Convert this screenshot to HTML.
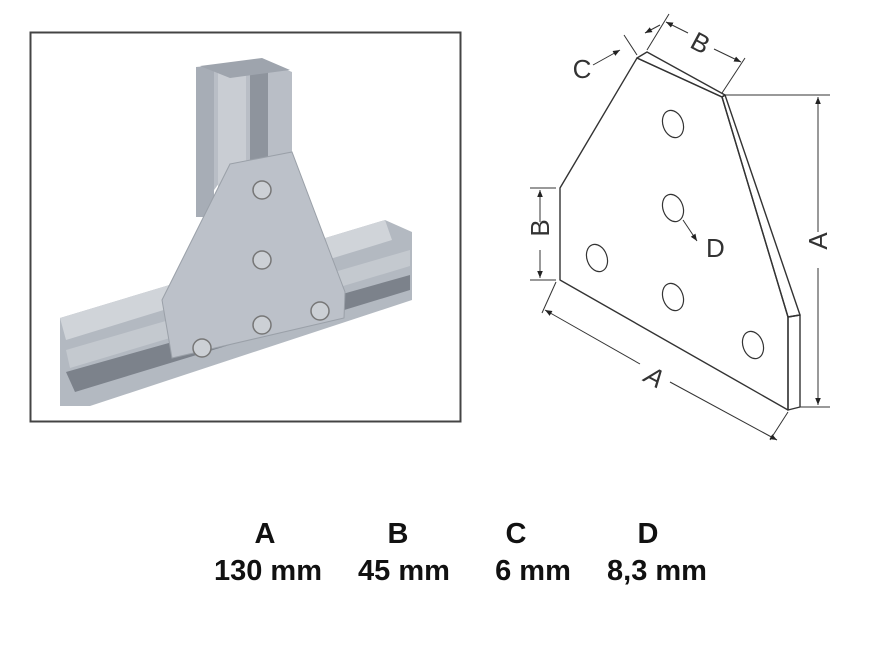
<!DOCTYPE html>
<html><head><meta charset="utf-8"><style>
html,body{margin:0;padding:0;background:#fff;}
svg{display:block}
text{font-family:"Liberation Sans",sans-serif;}
</style></head><body>
<svg width="880" height="660" viewBox="0 0 880 660" xmlns="http://www.w3.org/2000/svg">
<defs>
<marker id="ar" viewBox="0 0 10 10" refX="10" refY="5" markerWidth="7" markerHeight="7" orient="auto-start-reverse"><path d="M0,1 L10,5 L0,9 z" fill="#222"/></marker>
</defs>
<!-- photo -->
<rect x="30.5" y="32.5" width="430" height="389" fill="#fff" stroke="#444" stroke-width="2"/>
<!-- vertical profile -->
<polygon points="196,67 264,60 292,72 292,160 225,175 196,215" fill="#b9bec6"/>
<rect x="196" y="67" width="18" height="150" fill="#a7adb6"/>
<rect x="250" y="70" width="18" height="95" fill="#8e949d"/>
<rect x="218" y="72" width="28" height="150" fill="#c9cdd3"/>
<polygon points="200,66 262,58 290,70 230,78" fill="#9ea4ad"/>
<!-- horizontal profile -->
<polygon points="60,318 385,220 412,232 412,300 90,406 60,406" fill="#b3b9c1"/>
<polygon points="60,318 385,220 392,240 66,340" fill="#d0d4d9"/>
<polygon points="66,350 410,250 410,266 70,368" fill="#c4c9cf"/>
<polygon points="66,372 410,275 410,290 75,392" fill="#7c828b"/>
<!-- plate -->
<polygon points="230,164 292,152 345,292 344,318 172,358 162,300" fill="#bcc1c9" stroke="#9aa0a8"/>
<g fill="#ccd0d5" stroke="#777" stroke-width="1.5">
<circle cx="262" cy="190" r="9"/><circle cx="262" cy="260" r="9"/><circle cx="262" cy="325" r="9"/><circle cx="320" cy="311" r="9"/><circle cx="202" cy="348" r="9"/>
</g>
<!-- drawing -->
<g fill="none" stroke="#333" stroke-width="1.4" stroke-linejoin="round">
<polygon points="637,58 722,97 788,317 788,410 560,280 560,188" fill="#fff"/>
<polygon points="637,58 647,52 725,95 722,97"/>
<polygon points="722,97 725,95 800,315 788,317"/>
<polygon points="788,317 800,315 800,407 788,410"/>
<g stroke-width="1.2">
<ellipse cx="673" cy="124" rx="10" ry="14" transform="rotate(-20 673 124)"/>
<ellipse cx="673" cy="208" rx="10" ry="14" transform="rotate(-20 673 208)"/>
<ellipse cx="597" cy="258" rx="10" ry="14" transform="rotate(-20 597 258)"/>
<ellipse cx="673" cy="297" rx="10" ry="14" transform="rotate(-20 673 297)"/>
<ellipse cx="753" cy="345" rx="10" ry="14" transform="rotate(-20 753 345)"/>
</g>
<g stroke-width="1">
<line x1="725" y1="95" x2="830" y2="95"/><line x1="800" y1="407" x2="830" y2="407"/>
<line x1="818" y1="97" x2="818" y2="232" marker-start="url(#ar)"/><line x1="818" y1="268" x2="818" y2="405" marker-end="url(#ar)"/>
<line x1="530" y1="188" x2="556" y2="188"/><line x1="530" y1="280" x2="556" y2="280"/>
<line x1="540" y1="190" x2="540" y2="222" marker-start="url(#ar)"/><line x1="540" y1="250" x2="540" y2="278" marker-end="url(#ar)"/>
<line x1="556" y1="282" x2="542" y2="313"/><line x1="788" y1="412" x2="770" y2="440"/>
<line x1="545" y1="310" x2="640" y2="364" marker-start="url(#ar)"/><line x1="670" y1="382" x2="777" y2="440" marker-end="url(#ar)"/>
<line x1="647" y1="50" x2="669" y2="14"/><line x1="722" y1="93" x2="745" y2="58"/>
<line x1="637" y1="55" x2="624" y2="35"/>
<line x1="666" y1="22" x2="688" y2="33" marker-start="url(#ar)"/><line x1="714" y1="49" x2="741" y2="62" marker-end="url(#ar)"/>
<line x1="593" y1="65" x2="620" y2="50" marker-end="url(#ar)"/><line x1="660" y1="25" x2="645" y2="33" marker-end="url(#ar)"/>
<line x1="683" y1="220" x2="697" y2="241" marker-end="url(#ar)"/>
</g>
</g>
<g fill="#333" font-size="26">
<text x="827" y="259" transform="rotate(-90 818 250)" text-anchor="middle">A</text>
<text x="549" y="246" transform="rotate(-90 540 237)" text-anchor="middle">B</text>
<text x="655" y="386" transform="rotate(28 655 376)" text-anchor="middle" font-style="italic">A</text>
<text x="701" y="52" transform="rotate(28 701 42)" text-anchor="middle">B</text>
<text x="582" y="78" text-anchor="middle">C</text>
<text x="706" y="257">D</text>
</g>
<g fill="#111" font-size="29" font-weight="bold" text-anchor="middle">
<text x="265" y="543">A</text><text x="398" y="543">B</text><text x="516" y="543">C</text><text x="648" y="543">D</text>
<text x="268" y="580">130 mm</text><text x="404" y="580">45 mm</text><text x="533" y="580">6 mm</text><text x="657" y="580">8,3 mm</text>
</g>
</svg>
</body></html>
